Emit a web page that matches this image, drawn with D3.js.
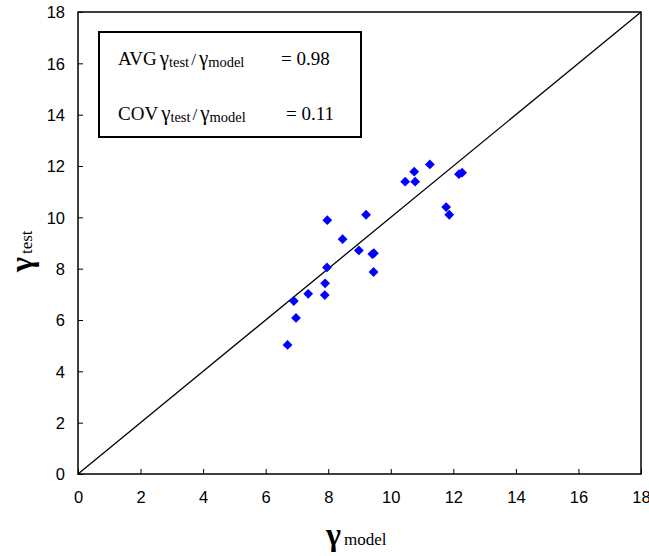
<!DOCTYPE html>
<html>
<head>
<meta charset="utf-8">
<script src="https://cdn.jsdelivr.net/npm/d3@7"></script>
<style>
  body { margin: 0; background: #fff; }
  .tick text { font-family: "Liberation Sans", Arial, sans-serif; font-size: 16.5px; fill: #000; }
  .serif { font-family: "Liberation Serif", "Times New Roman", serif; }
</style>
</head>
<body>
<div id="chart"></div>
<script>
// gamma model (x) and gamma test (y)
const gammaModel = [6.70, 6.97, 6.90, 7.36, 7.89, 7.90, 7.96, 7.97, 8.46, 8.98, 9.21,
    9.41, 9.46, 9.45, 10.46, 10.75, 10.78, 11.25, 11.77, 11.87, 12.18, 12.28];
const gammaTest = [5.03, 6.08, 6.74, 7.02, 6.97, 7.43, 8.05, 9.89, 9.15, 8.71, 10.10,
    8.57, 8.60, 7.87, 11.39, 11.78, 11.39, 12.06, 10.40, 10.10, 11.68, 11.74];
const tickValues = [0, 2, 4, 6, 8, 10, 12, 14, 16, 18];
const statLabels = ["AVG", "COV"];
const statValues = ["0.98", "0.11"];

const W = 649, H = 556;
const margin = {top: 12, right: 8, bottom: 82, left: 78};
const width = W - margin.left - margin.right;
const height = H - margin.top - margin.bottom;

const svg = d3.select("#chart").append("svg")
    .attr("width", W)
    .attr("height", H);

const g = svg.append("g")
    .attr("transform", `translate(${margin.left},${margin.top})`);

const x = d3.scaleLinear().domain([0, 18]).range([0, width]);
const y = d3.scaleLinear().domain([0, 18]).range([height, 0]);

// axes, ticks pointing inside
const xAxis = g.append("g")
    .attr("transform", `translate(0,${height})`)
    .call(d3.axisBottom(x).tickValues(tickValues).tickSizeInner(-5).tickSizeOuter(0).tickPadding(17));
const yAxis = g.append("g")
    .call(d3.axisLeft(y).tickValues(tickValues).tickSizeInner(-5).tickSizeOuter(0).tickPadding(13));
[xAxis, yAxis].forEach(a => {
    a.select(".domain").remove();
    a.selectAll(".tick line").attr("stroke", "#000").attr("stroke-width", 1);
});
yAxis.selectAll(".tick text").attr("dy", "0.36em");

// frame
g.append("rect")
    .attr("width", width)
    .attr("height", height)
    .attr("fill", "none")
    .attr("stroke", "#000")
    .attr("stroke-width", 1.5);

// 1:1 line
g.append("line")
    .attr("x1", x(0)).attr("y1", y(0))
    .attr("x2", x(18)).attr("y2", y(18))
    .attr("stroke", "#000")
    .attr("stroke-width", 1.3);

// points
const diamond = d3.symbol().type(d3.symbolSquare).size(48);
g.selectAll(".pt")
    .data(gammaModel.map((d, i) => [d, gammaTest[i]]))
    .enter().append("path")
    .attr("class", "pt")
    .attr("d", diamond)
    .attr("transform", d => `translate(${x(d[0])},${y(d[1])}) rotate(45)`)
    .attr("fill", "#0000ff");

// stats box
svg.append("rect")
    .attr("x", 99).attr("y", 32)
    .attr("width", 262).attr("height", 105)
    .attr("fill", "#fff")
    .attr("stroke", "#000")
    .attr("stroke-width", 2);

const rows = [65, 120];
const eqX = [281, 286];
statLabels.forEach((lab, i) => {
    const t = svg.append("text")
        .attr("class", "serif")
        .attr("x", 118).attr("y", rows[i])
        .attr("font-size", 19);
    t.append("tspan").text(lab);
    t.append("tspan").attr("dx", 3).attr("font-size", 21).text("γ");
    t.append("tspan").attr("font-size", 14.5).attr("dy", 2).text("test");
    t.append("tspan").attr("dy", -2).attr("dx", 2).attr("font-size", 17).text("/");
    t.append("tspan").attr("dx", 3).attr("font-size", 21).text("γ");
    t.append("tspan").attr("font-size", 14.5).attr("dy", 2).text("model");
    svg.append("text")
        .attr("class", "serif")
        .attr("x", eqX[i]).attr("y", rows[i])
        .attr("font-size", 19)
        .text("= " + statValues[i]);
});

// axis titles
const xt = svg.append("text")
    .attr("class", "serif")
    .attr("x", 326).attr("y", 545);
xt.append("tspan").attr("font-size", 32).attr("font-weight", "bold").text("γ");
xt.append("tspan").attr("font-size", 17).attr("dx", 3).text("model");

const yt = svg.append("g")
    .attr("transform", "translate(32,272) rotate(-90)")
    .append("text")
    .attr("class", "serif");
yt.append("tspan").attr("font-size", 32).attr("font-weight", "bold").text("γ");
yt.append("tspan").attr("font-size", 17).attr("dx", 3).text("test");
</script>
</body>
</html>
